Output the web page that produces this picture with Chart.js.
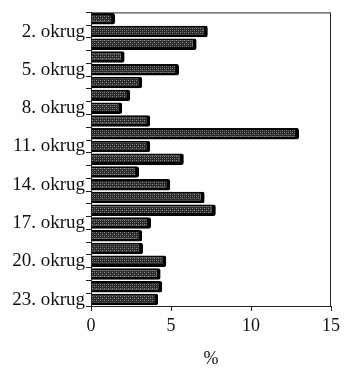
<!DOCTYPE html>
<html>
<head>
<meta charset="utf-8">
<script src="https://cdn.jsdelivr.net/npm/chart.js@4/dist/chart.umd.min.js"></script>
<style>
  html, body { margin: 0; padding: 0; background: #fff; }
  #wrap { width: 344px; height: 374px; }
</style>
</head>
<body>
<div id="wrap"><canvas id="js-okrug-chart" width="344" height="374"></canvas></div>
<script>
var districts = [];
for (var i = 1; i <= 23; i++) districts.push(i + ". okrug");
var shares = [1.5, 7.3, 6.6, 2.1, 5.5, 3.2, 2.45, 1.95, 3.7, 13.0, 3.7, 5.8,
              3.0, 4.95, 7.1, 7.8, 3.75, 3.2, 3.25, 4.7, 4.35, 4.45, 4.2];
var xTicks = [0, 5, 10, 15];

// dotted grey fill like the scanned hatching
function makePattern() {
    var c = document.createElement("canvas");
    c.width = 4; c.height = 4;
    var g = c.getContext("2d");
    g.fillStyle = "#2a2a2a";
    g.fillRect(0, 0, 4, 4);
    g.fillStyle = "#8c8c8c";
    g.fillRect(0, 0, 1, 1);
    g.fillRect(2, 2, 1, 1);
    g.fillStyle = "#5a5a5a";
    g.fillRect(2, 0, 1, 1);
    g.fillRect(0, 2, 1, 1);
    return g.createPattern(c, "repeat");
}

var frame = {
    id: "frame",
    afterDraw: function (chart) {
        var a = chart.chartArea, ctx = chart.ctx;
        ctx.save();
        ctx.strokeStyle = "#222";
        ctx.lineWidth = 1;
        ctx.strokeRect(a.left + 0.5, a.top + 0.5, a.right - a.left - 1, a.bottom - a.top);
        ctx.restore();
    }
};

var serif = "'Liberation Serif', 'DejaVu Serif', serif";

new Chart(document.getElementById("js-okrug-chart"), {
    type: "bar",
    data: {
        labels: districts,
        datasets: [{
            data: shares,
            backgroundColor: makePattern(),
            borderColor: "#000",
            borderWidth: { top: 2, right: 4, bottom: 3, left: 0 },
            borderSkipped: false,
            borderRadius: { topRight: 2, bottomRight: 2 },
            barPercentage: 0.9,
            categoryPercentage: 1
        }]
    },
    plugins: [frame],
    options: {
        indexAxis: "y",
        responsive: false,
        animation: false,
        layout: { padding: { top: 12, right: 9, left: 0, bottom: 0 } },
        plugins: { legend: { display: false }, tooltip: { enabled: false } },
        scales: {
            x: {
                min: 0, max: 15,
                afterBuildTicks: function (s) { s.ticks = xTicks.map(function (v) { return { value: v }; }); },
                afterFit: function (s) { s.height = 68; },
                grid: { drawOnChartArea: false, color: "#222", tickLength: 5 },
                border: { color: "#222" },
                ticks: { color: "#111", font: { family: serif, size: 18 }, padding: 4 },
                title: { display: true, text: "%", color: "#111", font: { family: serif, size: 18 }, padding: { top: 12 } }
            },
            y: {
                afterFit: function (s) { s.width = 91; },
                grid: { drawOnChartArea: false, color: "#222", tickLength: 5, offset: true },
                border: { color: "#222" },
                ticks: {
                    autoSkip: false,
                    color: "#111",
                    font: { family: serif, size: 19 },
                    padding: 1,
                    callback: function (v, i) { return i % 3 === 1 ? districts[i] : ""; }
                }
            }
        }
    }
});
</script>
</body>
</html>
